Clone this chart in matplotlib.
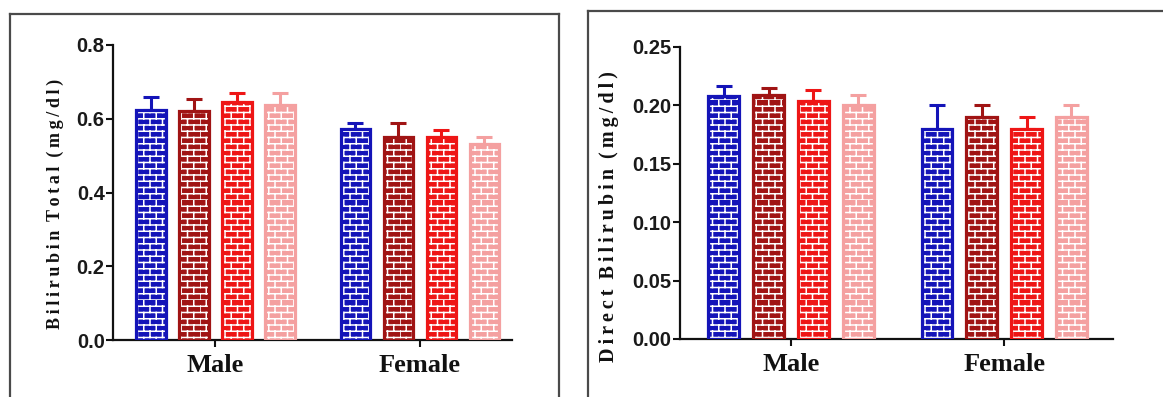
import warnings
warnings.filterwarnings("ignore")
import numpy as np
import matplotlib
matplotlib.use("Agg")
import matplotlib.pyplot as plt
from matplotlib import hatch as mhatch
from matplotlib.path import Path
from matplotlib.lines import Line2D

# ---------------- data ----------------
groups = ["Male", "Female"]
series_colors = ["#1414b8", "#a01414", "#ee1616", "#f4a0a0"]

total_vals = [[0.625, 0.622, 0.646, 0.637],   # Male
              [0.571, 0.551, 0.551, 0.531]]   # Female
total_err = [[0.035, 0.032, 0.025, 0.034],
             [0.018, 0.038, 0.019, 0.019]]

direct_vals = [[0.208, 0.209, 0.204, 0.200],
               [0.180, 0.190, 0.180, 0.190]]
direct_err = [[0.009, 0.006, 0.009, 0.009],
              [0.020, 0.010, 0.010, 0.010]]

total_ticks = [0.0, 0.2, 0.4, 0.6, 0.8]
direct_ticks = [0.00, 0.05, 0.10, 0.15, 0.20, 0.25]


# ---------------- brick hatch ----------------
class BrickHatch(mhatch.HatchPatternBase):
    def __init__(self, hatch, density):
        self.n = 8 if 'b' in hatch else 0
        n = self.n
        self.num_vertices = (2 * n * 2 + 2 * n * n * 2) if n else 0

    def set_vertices_and_codes(self, vertices, codes):
        n = self.n
        rows = 2 * n
        v = []
        for k in range(rows):
            y = k / rows
            v += [(0.0, y), (1.0, y)]
        for k in range(rows):
            y0, y1 = k / rows, (k + 1) / rows
            off = 0.5 if k % 2 else 0.0
            for j in range(n):
                x = (j + off) / n
                v += [(x, y0), (x, y1)]
        v = np.array(v)
        vertices[:] = v
        codes[0::2] = Path.MOVETO
        codes[1::2] = Path.LINETO


mhatch._hatch_types.append(BrickHatch)

plt.rcParams['hatch.linewidth'] = 1.1

W, H = 1163, 397
fig = plt.figure(figsize=(W / 100, H / 100), dpi=100)
fig.patch.set_facecolor("white")


def spaced(s, sp):
    return sp.join(list(s))


serif = ['Liberation Serif', 'DejaVu Serif']
sans = ['Liberation Sans', 'DejaVu Sans']


def panel(rect, vals, errs, ticks, fmt, ylabel, ylsize, xlim, label_xy):
    ax = fig.add_axes(rect)
    nser = len(series_colors)
    width = 0.145
    step = 0.21
    x = np.arange(len(groups))
    for si in range(nser):
        offs = (si - (nser - 1) / 2) * step
        xs = x + offs
        hs = [vals[g][si] for g in range(len(groups))]
        es = [errs[g][si] for g in range(len(groups))]
        c = series_colors[si]
        ax.errorbar(xs, hs, yerr=[np.zeros(len(es)), es], fmt='none',
                    ecolor=c, elinewidth=2.2, capsize=6, capthick=2.2, zorder=2)
        ax.bar(xs, hs, width=width, color=c, edgecolor='white', hatch='b',
               linewidth=0, zorder=3)
        ax.bar(xs, hs, width=width, fill=False, edgecolor=c, linewidth=2.3,
               zorder=4)
    ax.set_xlim(*xlim)
    ax.set_ylim(ticks[0], ticks[-1])
    ax.set_yticks(ticks)
    ax.set_yticklabels([fmt.format(t) for t in ticks], fontfamily=sans,
                       fontweight='bold', fontsize=14.5, color='#1a1a1a')
    ax.set_xticks(x)
    ax.set_xticklabels(groups, fontfamily=serif,
                       fontweight='bold', fontsize=19, color='#111111')
    for s in ['top', 'right']:
        ax.spines[s].set_visible(False)
    for s in ['left', 'bottom']:
        ax.spines[s].set_linewidth(1.6)
        ax.spines[s].set_color('#111111')
    ax.tick_params(axis='y', length=5, width=1.5, pad=1, color='#111111')
    ax.tick_params(axis='x', length=5, width=1.5, pad=5, color='#111111')
    words = ylabel.split(" ")
    lab = "  ".join(spaced(w, "\u2009") for w in words)
    ax.set_ylabel(lab, fontfamily=serif, fontweight='bold', fontsize=ylsize,
                  color='#111111')
    ax.yaxis.set_label_coords(*label_xy)
    ax.set_facecolor('none')
    return ax


def fx(px):
    return px / W


def fy(py):
    return 1 - py / H


# left panel
panel([fx(113), fy(340), fx(512) - fx(113), fy(45) - fy(340)],
      total_vals, total_err, total_ticks, "{:.1f}", "Bilirubin Total (mg/dl)",
      13, (-0.5, 1.45), (-0.123, 0.46))

# right panel
panel([fx(680), fy(339), fx(1113) - fx(680), fy(47) - fy(339)],
      direct_vals, direct_err, direct_ticks, "{:.2f}", "Direct Bilirubin (mg/dl)",
      14.5, (-0.52, 1.51), (-0.14, 0.42))

# image frame borders
frame_c = '#4a4a4a'
for xs, ys in [((fx(10), fx(10)), (fy(14), fy(400))),
               ((fx(10), fx(559)), (fy(14), fy(14))),
               ((fx(559), fx(559)), (fy(14), fy(400))),
               ((fx(588), fx(588)), (fy(11), fy(400))),
               ((fx(588), fx(1170)), (fy(11), fy(11)))]:
    fig.add_artist(Line2D(xs, ys, color=frame_c, linewidth=1.6,
                          transform=fig.transFigure))

fig.savefig("out.png", dpi=100, facecolor="white")
